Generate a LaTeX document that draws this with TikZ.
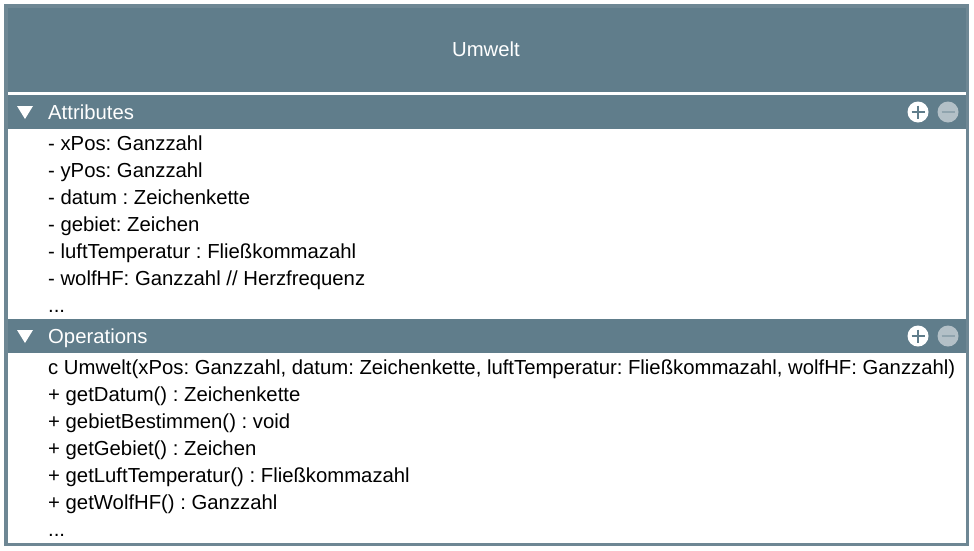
\documentclass[tikz,border=0pt]{standalone}
\usepackage{fontspec}
\setmainfont{Liberation Sans}
\usepackage{xcolor}
\usepackage{tikz}
\frenchspacing

\definecolor{balken}{HTML}{607D8B}
\definecolor{rahmen}{HTML}{6E8794}
\definecolor{minusgrau}{HTML}{B3C0C7}

\tikzset{
    zeile/.style={anchor=west, inner sep=0pt, text height=17pt, text depth=2pt,
        font=\fontsize{20.3}{24}\selectfont},
    kopf/.style={zeile, text=white},
}

\begin{document}
\begin{tikzpicture}[x=1pt,y=-1pt]
    \useasboundingbox (0,0) rectangle (974,550);

    % 标题栏
    \fill[balken] (4,4) rectangle (969,92);
    \node[text=white, inner sep=0pt, font=\fontsize{20.3}{24}\selectfont] (titel) at (486,49) {Umwelt};
    \draw[white, line width=2pt] (8,93.5) -- (965,93.5);

    % 属性栏
    \fill[balken] (4,95) rectangle (969,129);
    \fill[white] (17,106) -- (33,106) -- (25,119) -- cycle;
    \node[kopf] (attrlabel) at (48,112) {Attributes};
    \fill[white] (918,112) circle (10.5);
    \draw[balken, line width=2.6pt] (911.5,112) -- (924.5,112) (918,105.5) -- (918,118.5);
    \fill[minusgrau] (948,112) circle (10.5);
    \draw[balken!70!white, line width=2.6pt] (941.5,112) -- (954.5,112);

    % 属性
    \node[zeile] (a1) at (48,143) {- xPos: Ganzzahl};
    \node[zeile] (a2) at (48,170) {- yPos: Ganzzahl};
    \node[zeile] (a3) at (48,197) {- datum : Zeichenkette};
    \node[zeile] (a4) at (48,224) {- gebiet: Zeichen};
    \node[zeile] (a5) at (48,251) {- luftTemperatur : Fließkommazahl};
    \node[zeile] (a6) at (48,278) {- wolfHF: Ganzzahl // Herzfrequenz};
    \node[zeile] (a7) at (48,305) {...};

    % 方法栏
    \fill[balken] (4,319) rectangle (969,353);
    \fill[white] (17,330) -- (33,330) -- (25,343) -- cycle;
    \node[kopf] (oplabel) at (48,336) {Operations};
    \fill[white] (918,336) circle (10.5);
    \draw[balken, line width=2.6pt] (911.5,336) -- (924.5,336) (918,329.5) -- (918,342.5);
    \fill[minusgrau] (948,336) circle (10.5);
    \draw[balken!70!white, line width=2.6pt] (941.5,336) -- (954.5,336);

    % 方法
    \node[zeile] (o1) at (48,367) {c Umwelt(xPos: Ganzzahl, datum: Zeichenkette, luftTemperatur: Fließkommazahl, wolfHF: Ganzzahl)};
    \node[zeile] (o2) at (48,394) {+ getDatum() : Zeichenkette};
    \node[zeile] (o3) at (48,421) {+ gebietBestimmen() : void};
    \node[zeile] (o4) at (48,448) {+ getGebiet() : Zeichen};
    \node[zeile] (o5) at (48,475) {+ getLuftTemperatur() : Fließkommazahl};
    \node[zeile] (o6) at (48,502) {+ getWolfHF() : Ganzzahl};
    \node[zeile] (o7) at (48,529) {...};

    % 外框
    \draw[rahmen, line width=3.5pt] (5.75,5.75) rectangle (967.25,544.25);
\end{tikzpicture}
\end{document}
